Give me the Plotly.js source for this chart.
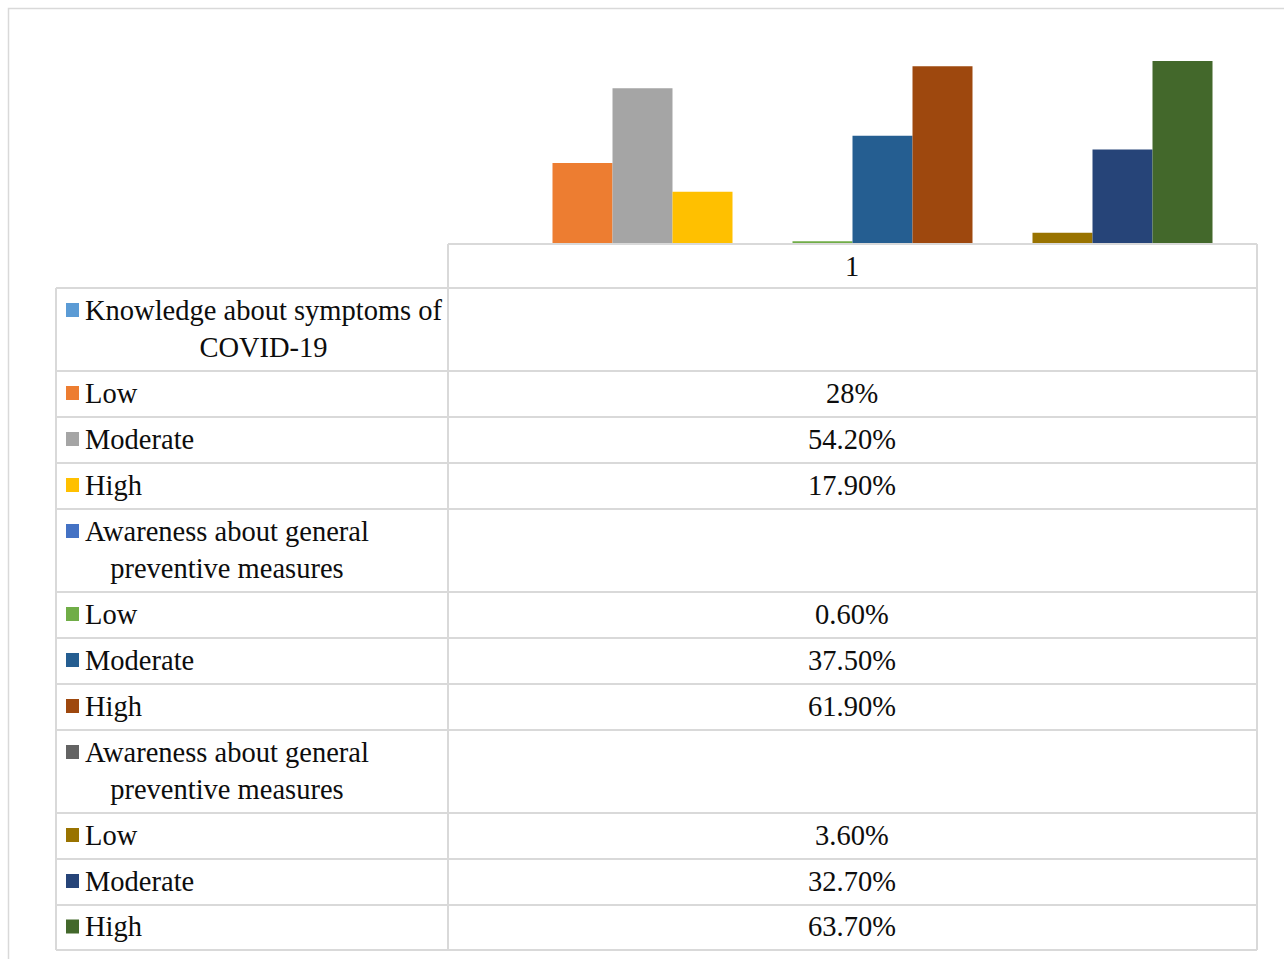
<!DOCTYPE html>
<html>
<head>
<meta charset="utf-8">
<script src="https://cdn.plot.ly/plotly-3.0.1.min.js"></script>
<style>
  html, body { margin: 0; padding: 0; background: #ffffff; }
  #chart { width: 1284px; height: 959px; }
</style>
</head>
<body>
<div id="chart"></div>
<script>
// ---- Data ----
const categories = ['1'];
const rowLabels = [
  'Knowledge about symptoms of<br>COVID-19',
  'Low',
  'Moderate',
  'High',
  'Awareness about general<br>preventive measures',
  'Low',
  'Moderate',
  'High',
  'Awareness about general<br>preventive measures',
  'Low',
  'Moderate',
  'High'
];
const values = [null, 28, 54.2, 17.9, null, 0.6, 37.5, 61.9, null, 3.6, 32.7, 63.7];
const valueLabels = ['', '28%', '54.20%', '17.90%', '', '0.60%', '37.50%', '61.90%', '', '3.60%', '32.70%', '63.70%'];
const colors = ['#5B9BD5', '#ED7D31', '#A5A5A5', '#FFC000', '#4472C4', '#70AD47',
                '#255E91', '#9E480E', '#636363', '#997300', '#264478', '#43682B'];

// ---- Layout geometry (pixels) ----
const W = 1284, H = 959;
const px = x => x / W;
const py = y => 1 - y / H;
const tableLeft = 56, tableDiv = 448, tableRight = 1257;
const headerTop = 244;
const rowLines = [288, 371, 417, 463, 509, 592, 638, 684, 730, 813, 859, 905, 950];
const baseY = 243, pxPerUnit = 2.857, yMax = 70;
const FONT = '"Liberation Serif", "Times New Roman", "DejaVu Serif", serif';
const FS = 28.5;
const gridColor = '#d9d9d9';

const traces = values.map((v, i) => ({
  type: 'bar',
  x: categories,
  y: [v],
  name: rowLabels[i].replace('<br>', ' '),
  marker: { color: colors[i], line: { width: 0 } },
  hoverinfo: 'skip',
  showlegend: false
}));

const shapes = [];
const annotations = [];
const line = (x0, y0, x1, y1, c, w) => shapes.push({
  type: 'line', xref: 'paper', yref: 'paper',
  x0: px(x0), y0: py(y0), x1: px(x1), y1: py(y1),
  line: { color: c || gridColor, width: w || 2 }, layer: 'below'
});

// outer chart frame
shapes.push({ type: 'rect', xref: 'paper', yref: 'paper',
  x0: px(8.5), y0: py(8.5), x1: px(1300), y1: py(975),
  line: { color: '#d9d9d9', width: 1.5 }, layer: 'below' });

// category header row
line(tableDiv, headerTop, tableRight, headerTop);
line(tableDiv, headerTop, tableDiv, rowLines[0]);
line(tableRight, headerTop, tableRight, rowLines[0]);
// horizontal row lines
rowLines.forEach(y => line(tableLeft, y, tableRight, y));
// vertical lines in body
line(tableLeft, rowLines[0], tableLeft, rowLines[rowLines.length - 1]);
line(tableDiv, rowLines[0], tableDiv, rowLines[rowLines.length - 1]);
line(tableRight, rowLines[0], tableRight, rowLines[rowLines.length - 1]);

// category label
annotations.push({
  xref: 'paper', yref: 'paper', x: px((tableDiv + tableRight) / 2), y: py((headerTop + rowLines[0]) / 2),
  xanchor: 'center', yanchor: 'middle', showarrow: false,
  text: categories[0], font: { family: FONT, size: FS, color: '#0d0d0d' }
});

// rows
for (let i = 0; i < rowLabels.length; i++) {
  const top = rowLines[i], bot = rowLines[i + 1];
  const mid = (top + bot) / 2;
  const twoLine = rowLabels[i].indexOf('<br>') >= 0;
  const sqC = twoLine ? top + 22 : mid - 1;
  shapes.push({ type: 'rect', xref: 'paper', yref: 'paper',
    x0: px(66), x1: px(79), y0: py(sqC - 7), y1: py(sqC + 7),
    fillcolor: colors[i], line: { width: 0 } });
  annotations.push({
    xref: 'paper', yref: 'paper', x: px(83), y: py(mid - 1),
    xanchor: 'left', yanchor: 'middle', align: 'center', showarrow: false,
    text: rowLabels[i], font: { family: FONT, size: FS, color: '#0d0d0d' }
  });
  if (valueLabels[i]) {
    annotations.push({
      xref: 'paper', yref: 'paper', x: px((tableDiv + tableRight) / 2), y: py(mid - 1),
      xanchor: 'center', yanchor: 'middle', showarrow: false,
      text: valueLabels[i], font: { family: FONT, size: FS, color: '#0d0d0d' }
    });
  }
}

const layout = {
  width: W, height: H,
  margin: { l: 0, r: 0, t: 0, b: 0 },
  paper_bgcolor: '#ffffff', plot_bgcolor: 'rgba(0,0,0,0)',
  barmode: 'group', bargap: 0.11, bargroupgap: 0,
  xaxis: {
    domain: [px(tableDiv), px(tableRight)],
    showticklabels: false, showgrid: false, zeroline: false, showline: false, ticks: ''
  },
  yaxis: {
    domain: [py(baseY), py(baseY - yMax * pxPerUnit)],
    range: [0, yMax],
    showticklabels: false, showgrid: false, zeroline: false, showline: false, ticks: ''
  },
  shapes: shapes,
  annotations: annotations
};

Plotly.newPlot('chart', traces, layout, { staticPlot: true, displayModeBar: false });
</script>
</body>
</html>
